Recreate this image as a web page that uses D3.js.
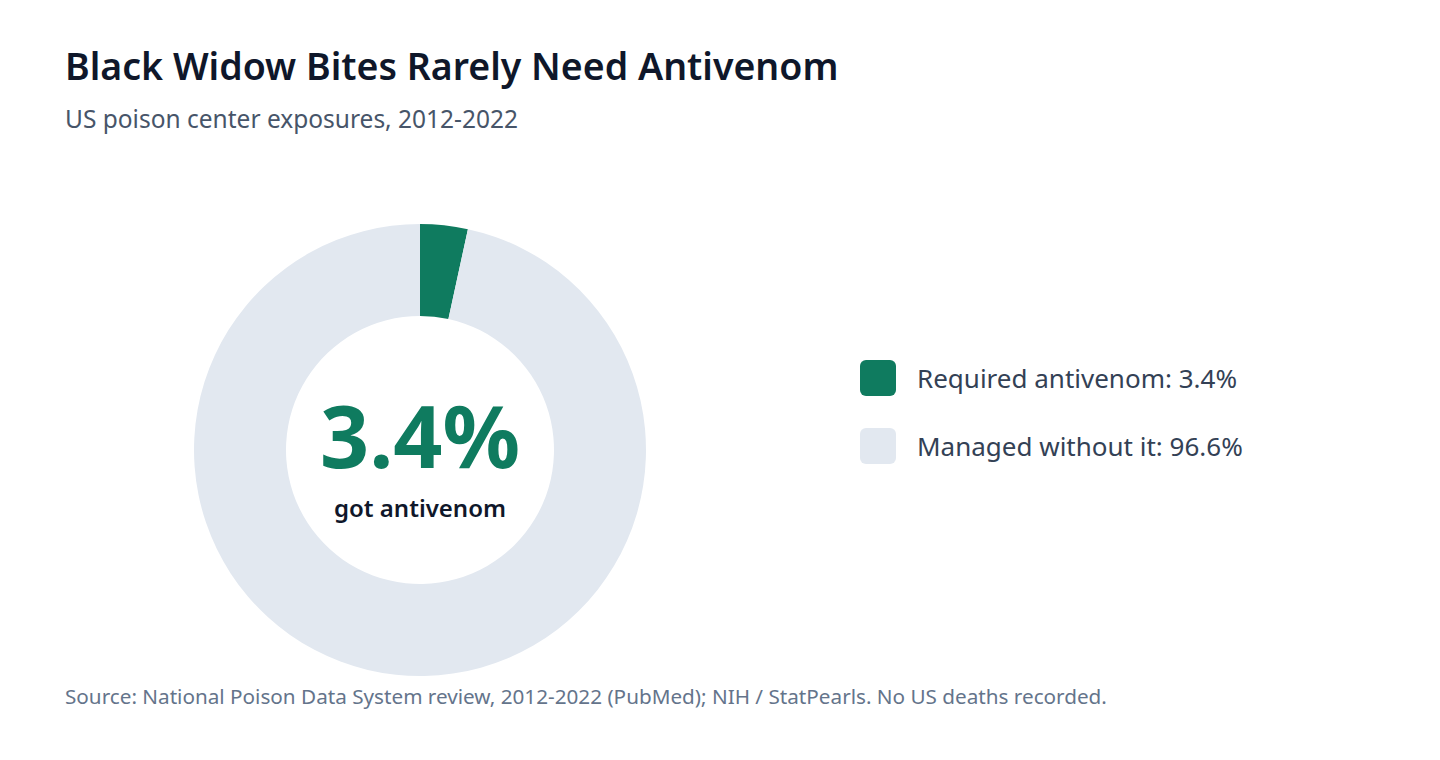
<!DOCTYPE html>
<html>
<head>
    <meta charset="utf-8">
    <title>Black Widow Bites</title>
    <script src="https://d3js.org/d3.v7.min.js"></script>
    <style>
        body {
            margin: 0;
            background: #ffffff;
            font-family: "Segoe UI", "Noto Sans", sans-serif;
        }
        .title { font-size: 37.5px; font-weight: 600; fill: #0f172a; }
        .subtitle { font-size: 24.5px; fill: #475569; }
        .big { font-size: 86px; font-weight: 700; fill: #0f7b5f; text-anchor: middle; }
        .caption { font-size: 24px; font-weight: 600; fill: #0f172a; text-anchor: middle; }
        .legend-label { font-size: 26px; fill: #334155; }
        .source { font-size: 20.7px; fill: #64748b; }
    </style>
</head>
<body>
<script>
    var categories = ["Required antivenom", "Managed without it"];
    var shares = [3.4, 96.6];
    var colors = ["#0f7b5f", "#e2e8f0"];

    var width = 1440, height = 760;
    var center = {x: 420, y: 450};
    var outerR = 226, innerR = 134;

    var svg = d3.select('body').append('svg')
        .attr('width', width)
        .attr('height', height);

    // titles
    svg.append('text').attr('class', 'title')
        .attr('x', 65).attr('y', 80)
        .text('Black Widow Bites Rarely Need Antivenom');
    svg.append('text').attr('class', 'subtitle')
        .attr('x', 65).attr('y', 128)
        .text('US poison center exposures, 2012-2022');

    // donut
    var pie = d3.pie().sort(null).value(function(d){ return d; });
    var arc = d3.arc().innerRadius(innerR).outerRadius(outerR);

    var donut = svg.append('g')
        .attr('transform', 'translate(' + center.x + ',' + center.y + ')');

    donut.selectAll('path')
        .data(pie(shares))
        .enter()
        .append('path')
        .attr('d', arc)
        .attr('fill', function(d, i){ return colors[i]; });

    donut.append('text').attr('class', 'big')
        .attr('x', 0).attr('y', 18)
        .text(shares[0] + '%');
    donut.append('text').attr('class', 'caption')
        .attr('x', 0).attr('y', 67)
        .text('got antivenom');

    // legend
    var legend = svg.append('g').attr('transform', 'translate(860,360)');
    var items = legend.selectAll('g')
        .data(categories)
        .enter()
        .append('g')
        .attr('transform', function(d, i){ return 'translate(0,' + i * 68 + ')'; });

    items.append('rect')
        .attr('width', 36).attr('height', 36)
        .attr('rx', 6)
        .attr('fill', function(d, i){ return colors[i]; });

    items.append('text').attr('class', 'legend-label')
        .attr('x', 57).attr('y', 28)
        .text(function(d, i){ return d + ': ' + shares[i] + '%'; });

    // source
    svg.append('text').attr('class', 'source')
        .attr('x', 65).attr('y', 704)
        .text('Source: National Poison Data System review, 2012-2022 (PubMed); NIH / StatPearls. No US deaths recorded.');
</script>
</body>
</html>
